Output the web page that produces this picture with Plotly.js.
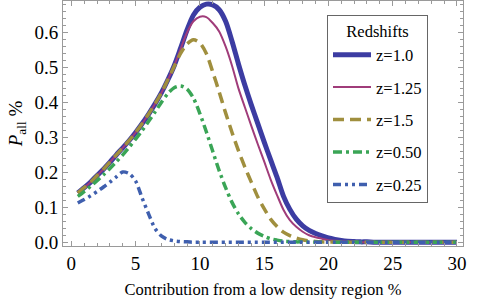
<!DOCTYPE html>
<html>
<head>
<meta charset="utf-8">
<script src="https://cdn.plot.ly/plotly-3.0.1.min.js"></script>
<style>html,body{margin:0;padding:0;background:#fff;}#chart{width:491px;height:307px;}</style>
</head>
<body>
<div id="chart"></div>
<script>
// Contribution from a low density region (%)
const contribution = [0.5,1.0,1.5,2.0,2.5,3.0,3.5,4.0,4.5,5.0,5.5,6.0,6.5,7.0,7.5,8.0,8.5,9.0,9.5,10.0,
  10.5,11.0,11.5,12.0,12.5,13.0,13.5,14.0,14.5,15.0,15.5,16.0,16.5,17.0,17.5,18.0,18.5,19.0,19.5,20.0,
  20.5,21.0,21.5,22.0,22.5,23.0,23.5,24.0,24.5,25.0,25.5,26.0,26.5,27.0,27.5,28.0,28.5,29.0,29.5,30.0];

const seriesNames = ["z=1.0","z=1.25","z=1.5","z=0.50","z=0.25"];

const pZ100 = [0.141,0.156,0.172,0.191,0.209,0.229,0.250,0.270,0.291,0.314,0.339,0.366,0.395,0.427,0.464,0.505,
  0.555,0.607,0.650,0.672,0.681,0.679,0.665,0.632,0.575,0.510,0.449,0.393,0.340,0.287,0.236,0.186,0.132,0.094,0.066,0.047,0.034,0.025,0.018,0.012,
  0.008,0.005,0.003,0.002,0.001,0.001,0,0,0,0,0,0,0,0,0,0,0,0,0,0];

const pZ125 = [0.141,0.156,0.172,0.191,0.209,0.229,0.250,0.270,0.291,0.314,0.339,0.366,0.395,0.427,0.464,0.505,
  0.553,0.600,0.632,0.645,0.644,0.627,0.603,0.560,0.505,0.440,0.386,0.333,0.281,0.231,0.180,0.135,0.093,0.063,0.044,0.030,0.020,0.014,0.010,0.006,
  0.004,0.003,0.002,0.001,0,0,0,0,0,0,0,0,0,0,0,0,0,0,0,0];

const pZ150 = [0.141,0.156,0.172,0.191,0.209,0.229,0.250,0.270,0.291,0.314,0.339,0.366,0.395,0.427,0.464,
  0.503,0.540,0.567,0.579,0.570,0.540,0.487,0.430,0.370,0.314,0.262,0.215,0.172,0.130,0.096,0.066,0.045,0.029,0.019,0.012,0.007,0.004,0.002,0.001,0.001,
  0,0,0,0,0,0,0,0,0,0,0,0,0,0,0,0,0,0,0,0];

const pZ050 = [0.131,0.145,0.160,0.176,0.193,0.211,0.230,0.250,0.272,0.295,0.319,0.345,0.372,0.400,0.425,0.442,
  0.447,0.438,0.412,0.368,0.316,0.260,0.205,0.156,0.114,0.081,0.057,0.039,0.026,0.017,0.010,0.006,0.003,0.002,0.001,0.001,
  0,0,0,0,0,0,0,0,0,0,0,0,0,0,0,0,0,0,0,0,0,0,0,0];

const pZ025 = [0.112,0.122,0.133,0.145,0.158,0.172,0.187,0.201,0.196,0.175,0.127,0.082,0.040,0.018,0.008,0.004,0.002,0.001,
  0,0,0,0,0,0,0,0,0,0,0,0,0,0,0,0,0,0,0,0,0,0,0,0,0,0,0,0,0,0,0,0,0,0,0,0,0,0,0,0,0,0];

const seriesValues = [pZ100, pZ125, pZ150, pZ050, pZ025];
const seriesStyles = [
  {color:'#3c3ca2', width:5, dash:'solid'},
  {color:'#a03c7a', width:2, dash:'solid'},
  {color:'#a08f3e', width:3.5, dash:'11px,6px'},
  {color:'#3aa556', width:3.5, dash:'9px,4px,3px,4px'},
  {color:'#3f5fae', width:3.5, dash:'8px,4px,3px,4px,3px,4px'}
];

const traces = seriesNames.map((n,i)=>({
  x: contribution, y: seriesValues[i], name: n, type:'scatter', mode:'lines',
  legendgroup: 'g'+i,
  line: Object.assign({shape:'spline', smoothing:0.8}, seriesStyles[i])
}));

const SERIF = '"Liberation Serif", serif';
const frame = '#9a9a9a';
const layout = {
  width:491, height:307,
  margin:{l:63, r:28, t:1, b:61, pad:0},
  paper_bgcolor:'#fff', plot_bgcolor:'#fff',
  showlegend:true,
  legend:{
    x:0.66, y:0.943, xanchor:'left', yanchor:'top',
    bgcolor:'#fff', bordercolor:'#666', borderwidth:1,
    font:{family:SERIF, size:16.5, color:'#000'},
    title:{text:'Redshifts', side:'top center', font:{family:SERIF, size:16.5, color:'#000'}},
    tracegroupgap:8, itemwidth:38
  },
  xaxis:{
    range:[-0.65,30.47], tick0:0, dtick:5, ticks:'inside', ticklen:5, tickcolor:frame, tickwidth:1,
    showline:true, linecolor:frame, linewidth:1, mirror:'ticks', showgrid:false, zeroline:false,
    tickfont:{family:SERIF, size:19, color:'#000'},
    minor:{dtick:1, ticks:'inside', ticklen:3, tickcolor:frame, showgrid:false},
    title:{text:'Contribution from a low density region %', font:{family:SERIF, size:16.5, color:'#000'}, standoff:10}
  },
  yaxis:{
    range:[-0.0108,0.69], tick0:0, dtick:0.1, tickformat:'.1f', ticks:'inside', ticklen:5, tickcolor:frame, tickwidth:1,
    showline:true, linecolor:frame, linewidth:1, mirror:'ticks', showgrid:false, zeroline:false,
    tickfont:{family:SERIF, size:19, color:'#000'},
    minor:{dtick:0.02, ticks:'inside', ticklen:3, tickcolor:frame, showgrid:false},
    title:{text:'<i>P</i><sub>all</sub> %', font:{family:SERIF, size:19, color:'#000'}, standoff:6}
  }
};

Plotly.newPlot('chart', traces, layout, {displayModeBar:false, staticPlot:true});
</script>
</body>
</html>
